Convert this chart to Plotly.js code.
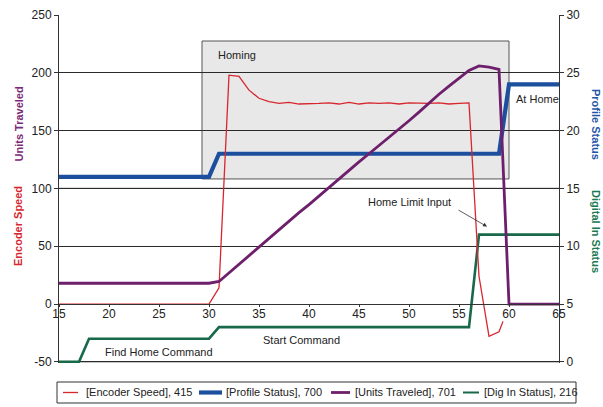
<!DOCTYPE html>
<html>
<head>
<meta charset="utf-8">
<script src="https://cdn.plot.ly/plotly-3.0.1.min.js"></script>
<style>html,body{margin:0;padding:0;background:#fff;}#chart{width:603px;height:407px;}</style>
</head>
<body>
<div id="chart"></div>
<script>
// ---- data ----
const seriesNames = ["[Encoder Speed], 415", "[Profile Status], 700", "[Units Traveled], 701", "[Dig In Status], 216"];

const encoderX = [15, 30, 31, 32, 33, 34, 35, 36, 37, 38, 39, 40, 41, 42, 43, 44, 45, 46, 47, 48, 49, 50, 51, 52, 53, 54, 55, 56, 57, 58, 59, 59.4];
const encoderSpeed = [0, 0, 14, 198, 197, 185, 178, 175, 173.6, 174.5, 173, 173, 173.5, 174, 173, 174.5, 173, 174, 173.5, 174, 173, 174, 173.5, 173.5, 174, 173, 173.5, 174, 24, -28, -24, -15];

const profileX = [15, 30, 31, 59, 60, 65];
const profileStatus = [16, 16, 18, 18, 24, 24];

const unitsX = [15, 30, 31, 32, 33, 34, 35, 36, 37, 38, 39, 40, 41, 42, 43, 44, 45, 46, 47, 48, 49, 50, 51, 52, 53, 54, 55, 56, 57, 58, 59, 60, 65];
const unitsTraveled = [18, 18, 19.5, 27, 34, 41.5, 49, 56.5, 64, 71.5, 79, 86, 93.5, 101, 108.5, 116, 123, 130, 137, 144, 151, 158.5, 166, 174, 181.5, 188.5, 195, 202, 206, 205, 203, 0, 0];

const digInX = [15, 17, 18, 30, 31, 56, 57, 65];
const digInStatus = [0, 0, 2, 2, 3, 3, 11, 11];

const leftTicks = [-50, 0, 50, 100, 150, 200, 250];
const rightTicks = [0, 5, 10, 15, 20, 25, 30];
const xTicks = [15, 20, 25, 30, 35, 40, 45, 50, 55, 60, 65];

// ---- style ----
const FONT = "Liberation Sans, Arial, sans-serif";
const RED = "#d7262e", BLUE = "#1d4f9f", PURPLE = "#6e1f6b", GREEN = "#17694a";
const W = 603, H = 407, ML = 59, MR = 44, MT = 15, MB = 44;
const PW = W - ML - MR, PH = H - MT - MB;
const px2x = p => (p - ML) / PW;          // pixel -> paper x
const px2y = p => (H - MB - p) / PH;      // pixel -> paper y
const LEFT_RANGE = [-51, 250], RIGHT_RANGE = [-0.1, 30];

const traces = [
  {x: profileX, y: profileStatus, name: seriesNames[1], yaxis: "y", mode: "lines",
   line: {color: BLUE, width: 4.2}},
  {x: digInX, y: digInStatus, name: seriesNames[3], yaxis: "y", mode: "lines",
   line: {color: GREEN, width: 2.6}},
  {x: encoderX, y: encoderSpeed, name: seriesNames[0], yaxis: "y2", mode: "lines",
   line: {color: RED, width: 1.3}},
  {x: unitsX, y: unitsTraveled, name: seriesNames[2], yaxis: "y2", mode: "lines",
   line: {color: PURPLE, width: 2.8}}
];

// legend drawn as a single boxed row (pixel layout of the reference)
const legendItems = [
  {name: seriesNames[0], color: RED, width: 1.3, l0: 63, l1: 78, tx: 84},
  {name: seriesNames[1], color: BLUE, width: 4.2, l0: 199, l1: 222, tx: 224},
  {name: seriesNames[2], color: PURPLE, width: 2.8, l0: 331, l1: 350, tx: 353},
  {name: seriesNames[3], color: GREEN, width: 2.0, l0: 463, l1: 479, tx: 482}
];
const LEG_Y0 = 382, LEG_Y1 = 403, LEG_YC = 392.5;

const shapes = [
  {type: "rect", xref: "x", yref: "y2", x0: 29.3, x1: 60, y0: 108.2, y1: 227.5,
   fillcolor: "#e8e8e8", line: {color: "#555", width: 1}, layer: "below"},
  {type: "line", xref: "paper", yref: "y2", x0: 0, x1: 1, y0: -50, y1: -50,
   line: {color: "#8a8a8a", width: 1.5}, layer: "between"},
  {type: "line", xref: "paper", yref: "y2", x0: 0, x1: 1, y0: 100, y1: 100,
   line: {color: "#7a7a7a", width: 1.3}, layer: "between"},
  {type: "rect", xref: "paper", yref: "paper", x0: px2x(57), x1: px2x(576), y0: px2y(LEG_Y1), y1: px2y(LEG_Y0),
   fillcolor: "#fff", line: {color: "#333", width: 1}}
];
const annotations = [
  {xref: "x", yref: "y2", x: 30.7, y: 215.4, text: "Homing", showarrow: false, xanchor: "left", yanchor: "middle"},
  {xref: "x", yref: "y2", x: 60.5, y: 177.4, text: "At Home", showarrow: false, xanchor: "left", yanchor: "middle"},
  {xref: "x", yref: "y2", x: 54.4, y: 88.3, text: "Home Limit Input", showarrow: false, xanchor: "right", yanchor: "middle"},
  {xref: "x", yref: "y2", x: 57.8, y: 67, axref: "x", ayref: "y2", ax: 54.8, ay: 82, text: "",
   showarrow: true, arrowhead: 2, arrowsize: 1, arrowwidth: 0.8, arrowcolor: "#333"},
  {xref: "x", yref: "y2", x: 39.25, y: -31, text: "Start Command", showarrow: false, xanchor: "center", yanchor: "middle"},
  {xref: "x", yref: "y2", x: 24.95, y: -41.3, text: "Find Home Command", showarrow: false, xanchor: "center", yanchor: "middle"},
  {xref: "paper", yref: "paper", x: px2x(18), y: px2y(124.5), text: "<b>Units Traveled</b>", textangle: -90, showarrow: false,
   xanchor: "center", yanchor: "middle", font: {family: FONT, size: 11, color: "#7a2a78"}},
  {xref: "paper", yref: "paper", x: px2x(18), y: px2y(226), text: "<b>Encoder Speed</b>", textangle: -90, showarrow: false,
   xanchor: "center", yanchor: "middle", font: {family: FONT, size: 11, color: RED}},
  {xref: "paper", yref: "paper", x: px2x(596), y: px2y(124), text: "<b>Profile Status</b>", textangle: 90, showarrow: false,
   xanchor: "center", yanchor: "middle", font: {family: FONT, size: 11, color: "#1f55a8"}},
  {xref: "paper", yref: "paper", x: px2x(596), y: px2y(231), text: "<b>Digital In Status</b>", textangle: 90, showarrow: false,
   xanchor: "center", yanchor: "middle", font: {family: FONT, size: 11, color: "#1a7a52"}}
];
legendItems.forEach(it => {
  shapes.push({type: "line", xref: "paper", yref: "paper", x0: px2x(it.l0), x1: px2x(it.l1),
    y0: px2y(LEG_YC), y1: px2y(LEG_YC), line: {color: it.color, width: it.width}});
  annotations.push({xref: "paper", yref: "paper", x: px2x(it.tx), y: px2y(LEG_YC), text: it.name,
    showarrow: false, xanchor: "left", yanchor: "middle", font: {family: FONT, size: 11, color: "#222"}});
});

const tickFont = {family: FONT, size: 12, color: "#222"};
const layout = {
  width: W, height: H,
  margin: {l: ML, r: MR, t: MT, b: MB},
  paper_bgcolor: "#fff", plot_bgcolor: "#fff",
  font: {family: FONT, size: 11, color: "#222"},
  showlegend: false,
  xaxis: {
    range: [15, 65], tickvals: xTicks, ticktext: xTicks.map(String),
    anchor: "free", position: (0 - LEFT_RANGE[0]) / (LEFT_RANGE[1] - LEFT_RANGE[0]),
    showgrid: false, zeroline: false,
    showline: true, linecolor: "#333", linewidth: 1,
    ticks: "outside", ticklen: 2, tickcolor: "#333", tickfont: tickFont,
    ticklabelstandoff: -3
  },
  yaxis: {
    range: RIGHT_RANGE, tickvals: rightTicks, ticktext: rightTicks.map(String),
    side: "right", showgrid: true, gridcolor: "#2a2a2a", gridwidth: 1,
    zeroline: false, showline: true, linecolor: "#333", linewidth: 1,
    ticks: "outside", ticklen: 4, tickcolor: "#333", tickfont: tickFont
  },
  yaxis2: {
    range: LEFT_RANGE, tickvals: leftTicks, ticktext: leftTicks.map(String),
    overlaying: "y", side: "left", showgrid: false, zeroline: false,
    showline: true, linecolor: "#333", linewidth: 1,
    ticks: "outside", ticklen: 4, tickcolor: "#333", tickfont: tickFont
  },
  shapes: shapes,
  annotations: annotations
};

Plotly.newPlot("chart", traces, layout, {staticPlot: true, displayModeBar: false});
</script>
</body>
</html>
